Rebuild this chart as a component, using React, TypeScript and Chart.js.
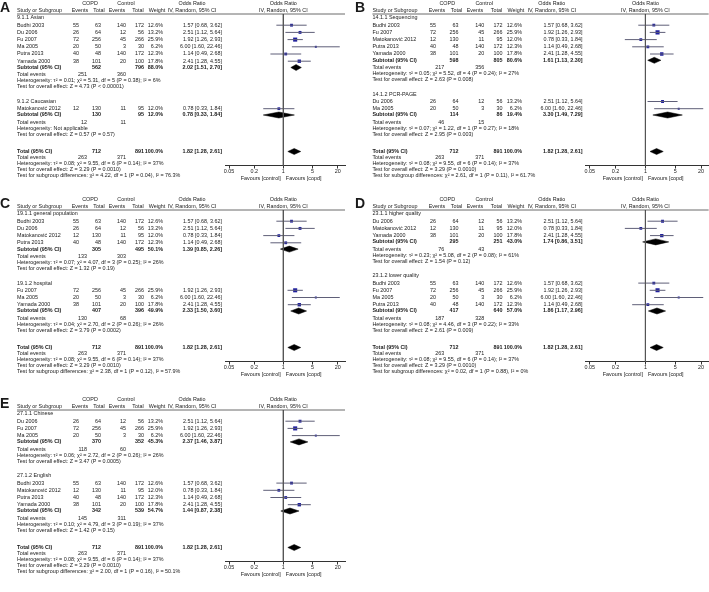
import React, { useEffect, useRef } from 'react';
import { Chart, registerables } from 'chart.js';
Chart.register(...registerables);

const FONT = '"Liberation Sans", Arial, Helvetica, sans-serif';
const FS = 5.4;

// ---- study data (shared by all panels) ----
const STUDY_NAMES = ['Budhi 2003', 'Du 2006', 'Fu 2007', 'Ma 2005', 'Matokanović 2012', 'Putra 2013', 'Yamada 2000'];
const COPD_EVENTS = [55, 26, 72, 20, 12, 40, 38];
const COPD_TOTAL = [63, 64, 256, 50, 130, 48, 101];
const CTRL_EVENTS = [140, 12, 45, 3, 11, 140, 20];
const CTRL_TOTAL = [172, 56, 266, 30, 95, 172, 100];
const WEIGHTS = [12.6, 13.2, 25.9, 6.2, 12.0, 12.3, 17.8];
const OR = [1.57, 2.51, 1.92, 6.0, 0.78, 1.14, 2.41];
const OR_LO = [0.68, 1.12, 1.26, 1.6, 0.33, 0.49, 1.28];
const OR_HI = [3.62, 5.64, 2.93, 22.46, 1.84, 2.68, 4.55];

const AXIS_TICKS = [0.05, 0.2, 1, 5, 20];

// ---- overall ----
const TOTAL_N = [712, 891];
const TOTAL_EVENTS = [263, 371];
const TOTAL_OR = [1.82, 1.28, 2.61];
const TOTAL_HET = 'Heterogeneity: τ² = 0.08; χ² = 9.55, df = 6 (P = 0.14); I² = 37%';
const TOTAL_TEST = 'Test for overall effect: Z = 3.29 (P = 0.0010)';

// ---- panel A ----
const A_TITLES = ['9.1.1 Asian', '9.1.2 Caucasian'];
const A_MEMBERS = [[0, 1, 2, 3, 5, 6], [4]];
const A_SUB_N = [[562, 796], [130, 95]];
const A_SUB_WEIGHT = [88.0, 12.0];
const A_SUB_OR = [[2.02, 1.51, 2.7], [0.78, 0.33, 1.84]];
const A_SUB_EVENTS = [[251, 360], [12, 11]];
const A_HET = ['Heterogeneity: τ² = 0.01; χ² = 5.31, df = 5 (P = 0.38); I² = 6%', 'Heterogeneity: Not applicable'];
const A_TEST = ['Test for overall effect: Z = 4.73 (P < 0.00001)', 'Test for overall effect: Z = 0.57 (P = 0.57)'];
const A_DIFF = 'Test for subgroup differences: χ² = 4.22, df = 1 (P = 0.04), I² = 76.3%';

// ---- panel B ----
const B_TITLES = ['14.1.1 Sequencing', '14.1.2 PCR-PAGE'];
const B_MEMBERS = [[0, 2, 4, 5, 6], [1, 3]];
const B_SUB_N = [[598, 805], [114, 86]];
const B_SUB_WEIGHT = [80.6, 19.4];
const B_SUB_OR = [[1.61, 1.13, 2.3], [3.3, 1.49, 7.29]];
const B_SUB_EVENTS = [[217, 356], [46, 15]];
const B_HET = ['Heterogeneity: τ² = 0.05; χ² = 5.52, df = 4 (P = 0.24); I² = 27%', 'Heterogeneity: τ² = 0.07; χ² = 1.22, df = 1 (P = 0.27); I² = 18%'];
const B_TEST = ['Test for overall effect: Z = 2.63 (P = 0.008)', 'Test for overall effect: Z = 2.95 (P = 0.003)'];
const B_DIFF = 'Test for subgroup differences: χ² = 2.61, df = 1 (P = 0.11), I² = 61.7%';

// ---- panel C ----
const C_TITLES = ['19.1.1 general population', '19.1.2 hospital'];
const C_MEMBERS = [[0, 1, 4, 5], [2, 3, 6]];
const C_SUB_N = [[305, 495], [407, 396]];
const C_SUB_WEIGHT = [50.1, 49.9];
const C_SUB_OR = [[1.39, 0.85, 2.26], [2.33, 1.5, 3.6]];
const C_SUB_EVENTS = [[133, 303], [130, 68]];
const C_HET = ['Heterogeneity: τ² = 0.07; χ² = 4.07, df = 3 (P = 0.25); I² = 26%', 'Heterogeneity: τ² = 0.04; χ² = 2.70, df = 2 (P = 0.26); I² = 26%'];
const C_TEST = ['Test for overall effect: Z = 1.32 (P = 0.19)', 'Test for overall effect: Z = 3.79 (P = 0.0002)'];
const C_DIFF = 'Test for subgroup differences: χ² = 2.38, df = 1 (P = 0.12), I² = 57.9%';

// ---- panel D ----
const D_TITLES = ['23.1.1 higher quality', '23.1.2 lower quality'];
const D_MEMBERS = [[1, 4, 6], [0, 2, 3, 5]];
const D_SUB_N = [[295, 251], [417, 640]];
const D_SUB_WEIGHT = [43.0, 57.0];
const D_SUB_OR = [[1.74, 0.86, 3.51], [1.86, 1.17, 2.96]];
const D_SUB_EVENTS = [[76, 43], [187, 328]];
const D_HET = ['Heterogeneity: τ² = 0.23; χ² = 5.08, df = 2 (P = 0.08); I² = 61%', 'Heterogeneity: τ² = 0.08; χ² = 4.46, df = 3 (P = 0.22); I² = 33%'];
const D_TEST = ['Test for overall effect: Z = 1.54 (P = 0.12)', 'Test for overall effect: Z = 2.61 (P = 0.009)'];
const D_DIFF = 'Test for subgroup differences: χ² = 0.02, df = 1 (P = 0.88), I² = 0%';

// ---- panel E ----
const E_TITLES = ['27.1.1 Chinese', '27.1.2 English'];
const E_MEMBERS = [[1, 2, 3], [0, 4, 5, 6]];
const E_SUB_N = [[370, 352], [342, 539]];
const E_SUB_WEIGHT = [45.3, 54.7];
const E_SUB_OR = [[2.37, 1.46, 3.87], [1.44, 0.87, 2.38]];
const E_SUB_EVENTS = [[118, 60], [145, 311]];
const E_HET = ['Heterogeneity: τ² = 0.06; χ² = 2.72, df = 2 (P = 0.26); I² = 26%', 'Heterogeneity: τ² = 0.10; χ² = 4.79, df = 3 (P = 0.19); I² = 37%'];
const E_TEST = ['Test for overall effect: Z = 3.47 (P = 0.0005)', 'Test for overall effect: Z = 1.42 (P = 0.15)'];
const E_DIFF = 'Test for subgroup differences: χ² = 2.00, df = 1 (P = 0.16), I² = 50.1%';

type PanelCfg = {
  letter: string; left: number; top: number; width: number; height: number; scale: number;
  titles: string[]; members: number[][]; subN: number[][]; subWeight: number[]; subOr: number[][];
  subEvents: number[][]; het: string[]; test: string[]; diff: string;
};

const PANELS: PanelCfg[] = [
  { letter: 'A', left: 0, top: 0, width: 350, height: 196, scale: 1, titles: A_TITLES, members: A_MEMBERS, subN: A_SUB_N, subWeight: A_SUB_WEIGHT, subOr: A_SUB_OR, subEvents: A_SUB_EVENTS, het: A_HET, test: A_TEST, diff: A_DIFF },
  { letter: 'B', left: 355, top: 0, width: 354, height: 196, scale: 1.025, titles: B_TITLES, members: B_MEMBERS, subN: B_SUB_N, subWeight: B_SUB_WEIGHT, subOr: B_SUB_OR, subEvents: B_SUB_EVENTS, het: B_HET, test: B_TEST, diff: B_DIFF },
  { letter: 'C', left: 0, top: 196, width: 350, height: 200, scale: 1, titles: C_TITLES, members: C_MEMBERS, subN: C_SUB_N, subWeight: C_SUB_WEIGHT, subOr: C_SUB_OR, subEvents: C_SUB_EVENTS, het: C_HET, test: C_TEST, diff: C_DIFF },
  { letter: 'D', left: 355, top: 196, width: 354, height: 200, scale: 1.025, titles: D_TITLES, members: D_MEMBERS, subN: D_SUB_N, subWeight: D_SUB_WEIGHT, subOr: D_SUB_OR, subEvents: D_SUB_EVENTS, het: D_HET, test: D_TEST, diff: D_DIFF },
  { letter: 'E', left: 0, top: 396, width: 350, height: 196, scale: 1, titles: E_TITLES, members: E_MEMBERS, subN: E_SUB_N, subWeight: E_SUB_WEIGHT, subOr: E_SUB_OR, subEvents: E_SUB_EVENTS, het: E_HET, test: E_TEST, diff: E_DIFF },
];

type TextItem = { t: string; x: number; y: number; align: CanvasTextAlign; bold?: boolean; rel?: boolean; size?: number };

const fmtOR = (v: number[]) => `${v[0].toFixed(2)} [${v[1].toFixed(2)}, ${v[2].toFixed(2)}]`;

function Panel({ cfg }: { cfg: PanelCfg }) {
  const ref = useRef<HTMLCanvasElement>(null);
  useEffect(() => {
    if (!ref.current) return;
    const s = cfg.scale;
    const W = cfg.width;
    const H = cfg.height;
    const X = (v: number) => v * s;
    const texts: TextItem[] = [];
    const add = (t: string, x: number, y: number, align: CanvasTextAlign = 'left', bold = false) =>
      texts.push({ t, x: X(x), y, align, bold });
    const addRel = (t: string, dx: number, y: number, align: CanvasTextAlign) =>
      texts.push({ t, x: dx, y, align, rel: true });

    texts.push({ t: cfg.letter, x: 0, y: 8.5, align: 'left', bold: true, size: 14 });
    const h1 = 4, h2 = 10.5;
    add('COPD', 90, h1, 'center');
    add('Control', 126, h1, 'center');
    add('Odds Ratio', 192, h1, 'center');
    addRel('Odds Ratio', 0, h1, 'center');
    add('Study or Subgroup', 17, h2);
    add('Events', 80, h2, 'center');
    add('Total', 99, h2, 'center');
    add('Events', 117, h2, 'center');
    add('Total', 138, h2, 'center');
    add('Weight', 157, h2, 'center');
    add('IV, Random, 95% CI', 192, h2, 'center');
    addRel('IV, Random, 95% CI', 0, h2, 'center');
    const underlineY = 14;

    const studyPts: { x: number; y: number }[] = [];
    const radii: number[] = [];
    const ciSegs: { x: number; y: number }[][] = [];
    const diamonds: { or: number[]; y: number }[] = [];

    let y = 18;
    cfg.titles.forEach((title, g) => {
      if (g > 0) y += 14.5;
      add(title, 17, y);
      y += 7.2;
      cfg.members[g].forEach((i, k) => {
        if (k > 0) y += 7.2;
        add(STUDY_NAMES[i], 17, y);
        add(String(COPD_EVENTS[i]), 79, y, 'right');
        add(String(COPD_TOTAL[i]), 101, y, 'right');
        add(String(CTRL_EVENTS[i]), 126, y, 'right');
        add(String(CTRL_TOTAL[i]), 144, y, 'right');
        add(WEIGHTS[i].toFixed(1) + '%', 163, y, 'right');
        add(fmtOR([OR[i], OR_LO[i], OR_HI[i]]), 222, y, 'right');
        studyPts.push({ x: OR[i], y });
        radii.push((0.8 * Math.sqrt(WEIGHTS[i])) / Math.SQRT2);
        ciSegs.push([{ x: OR_LO[i], y }, { x: OR_HI[i], y }]);
      });
      y += 6.3;
      add('Subtotal (95% CI)', 17, y, 'left', true);
      add(String(cfg.subN[g][0]), 101, y, 'right', true);
      add(String(cfg.subN[g][1]), 144, y, 'right', true);
      add(cfg.subWeight[g].toFixed(1) + '%', 163, y, 'right', true);
      add(fmtOR(cfg.subOr[g]), 222, y, 'right', true);
      diamonds.push({ or: cfg.subOr[g], y });
      y += 7.5;
      add('Total events', 17, y);
      add(String(cfg.subEvents[g][0]), 87, y, 'right');
      add(String(cfg.subEvents[g][1]), 126, y, 'right');
      y += 6;
      add(cfg.het[g], 17, y);
      y += 6;
      add(cfg.test[g], 17, y);
    });
    y += 17;
    const totalY = y;
    add('Total (95% CI)', 17, y, 'left', true);
    add(String(TOTAL_N[0]), 101, y, 'right', true);
    add(String(TOTAL_N[1]), 144, y, 'right', true);
    add('100.0%', 163, y, 'right', true);
    add(fmtOR(TOTAL_OR), 222, y, 'right', true);
    diamonds.push({ or: TOTAL_OR, y });
    y += 6;
    add('Total events', 17, y);
    add(String(TOTAL_EVENTS[0]), 87, y, 'right');
    add(String(TOTAL_EVENTS[1]), 126, y, 'right');
    y += 6;
    add(TOTAL_HET, 17, y);
    y += 6;
    add(TOTAL_TEST, 17, y);
    y += 6;
    add(cfg.diff, 17, y);

    const axisY = totalY + 14;
    addRel('Favours [control]', -2.5, axisY + 13, 'right');
    addRel('Favours [copd]', 2.5, axisY + 13, 'left');

    const datasets: any[] = [];
    datasets.push({
      type: 'line', data: [{ x: 1, y: underlineY }, { x: 1, y: axisY }],
      borderColor: '#555', borderWidth: 1, pointRadius: 0,
    });
    ciSegs.forEach((seg) =>
      datasets.push({ type: 'line', data: seg, borderColor: '#5f5f78', borderWidth: 1, pointRadius: 0 })
    );
    datasets.push({
      type: 'scatter', data: studyPts, pointStyle: 'rect', pointRadius: radii,
      backgroundColor: '#1f1f9e', borderWidth: 0, pointBorderWidth: 0,
    });
    diamonds.forEach((d) =>
      datasets.push({
        type: 'line',
        data: [
          { x: d.or[1], y: d.y }, { x: d.or[0], y: d.y - 3 }, { x: d.or[2], y: d.y },
          { x: d.or[0], y: d.y + 3 }, { x: d.or[1], y: d.y },
        ],
        borderColor: '#000', backgroundColor: '#000', borderWidth: 0.5, pointRadius: 0, fill: 'shape',
      })
    );

    const textPlugin = {
      id: 'forestText',
      afterDraw(chart: any) {
        const ctx: CanvasRenderingContext2D = chart.ctx;
        const xRef = chart.scales.x.getPixelForValue(1);
        ctx.save();
        ctx.fillStyle = '#1a1a1a';
        ctx.textBaseline = 'middle';
        texts.forEach((it) => {
          ctx.font = `${it.bold ? 'bold ' : ''}${it.size || FS}px ${FONT}`;
          ctx.textAlign = it.align;
          ctx.fillText(it.t, it.rel ? xRef + it.x : it.x, it.y);
        });
        ctx.strokeStyle = '#444';
        ctx.lineWidth = 0.8;
        ctx.beginPath();
        ctx.moveTo(X(17), underlineY);
        ctx.lineTo(X(345), underlineY);
        ctx.stroke();
        ctx.restore();
      },
    };

    const chart = new Chart(ref.current, {
      type: 'scatter',
      data: { datasets },
      options: {
        animation: false,
        responsive: false,
        maintainAspectRatio: false,
        events: [],
        devicePixelRatio: 1,
        layout: { padding: { left: X(225), right: W - X(345), top: 0, bottom: 0 }, autoPadding: false },
        plugins: { legend: { display: false }, tooltip: { enabled: false } },
        scales: {
          x: {
            type: 'logarithmic', min: 0.04, max: 30,
            position: { y: axisY } as any,
            afterBuildTicks: (axis: any) => { axis.ticks = AXIS_TICKS.map((v) => ({ value: v })); },
            ticks: {
              callback: (v: any) => String(v), font: { size: FS, family: FONT }, color: '#1a1a1a',
              padding: 0.5, maxRotation: 0, autoSkip: false,
            },
            grid: { display: true, drawOnChartArea: false, drawTicks: true, tickLength: 2.5, color: '#333' },
            border: { display: true, color: '#333', width: 1 },
          },
          y: { type: 'linear', min: 0, max: H, reverse: true, display: false },
        },
      },
      plugins: [textPlugin],
    } as any);
    return () => chart.destroy();
  }, [cfg]);
  return (
    <canvas
      ref={ref}
      width={cfg.width}
      height={cfg.height}
      style={{ position: 'absolute', left: cfg.left, top: cfg.top, width: cfg.width, height: cfg.height }}
    />
  );
}

export default function App() {
  return (
    <div style={{ position: 'absolute', left: 0, top: 0, width: 709, height: 592, background: '#fff', overflow: 'hidden' }}>
      {PANELS.map((p) => (
        <Panel key={p.letter} cfg={p} />
      ))}
    </div>
  );
}
